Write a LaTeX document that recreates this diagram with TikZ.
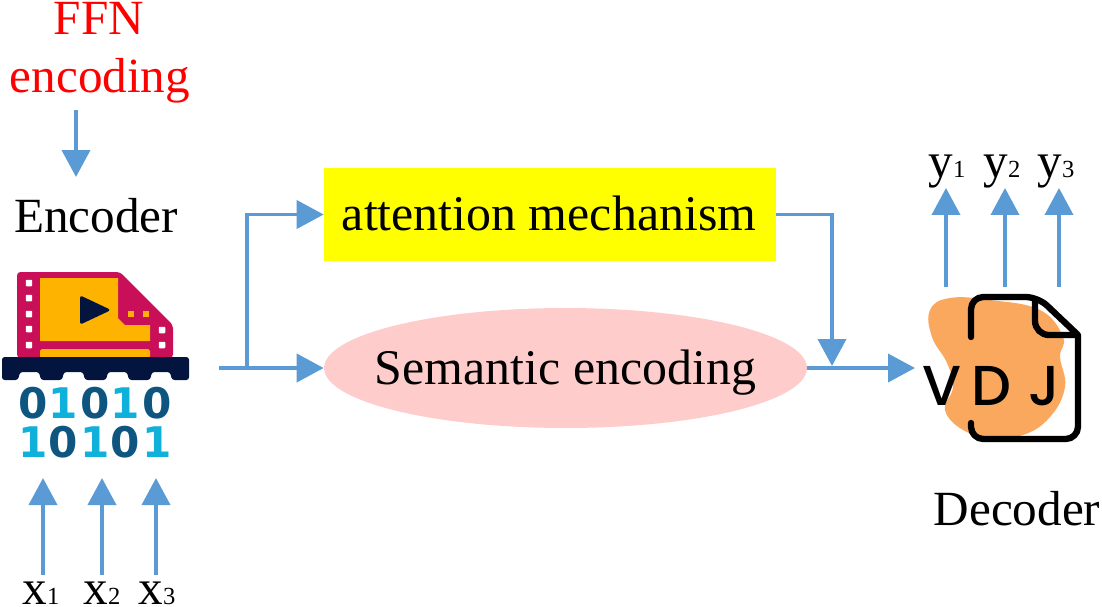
\documentclass[tikz,border=0pt]{standalone}
\usepackage{fontspec}
\setmainfont{Liberation Serif}
\newfontfamily\digitfont{DejaVu Sans}[BoldFont={DejaVu Sans Bold}]
\newfontfamily\vdjfont{Poppins Medium}
\usetikzlibrary{positioning,arrows.meta,shapes.geometric}
\definecolor{arrowblue}{HTML}{5B9BD5}
\definecolor{filmred}{HTML}{C90F57}
\definecolor{filmorange}{HTML}{FDB300}
\definecolor{filmnavy}{HTML}{03153F}
\definecolor{bitdark}{HTML}{0E5680}
\definecolor{bitlight}{HTML}{0FB1DA}
\definecolor{blobfill}{HTML}{FBA85F}
\definecolor{pinkfill}{HTML}{FFCCCC}
\definecolor{boxyellow}{HTML}{FFFF00}
\tikzset{
  lbl/.style={inner sep=0pt,anchor=base,font=\fontsize{28}{28}\selectfont},
  midlbl/.style={inner sep=0pt,anchor=base,font=\fontsize{28.4}{28}\selectfont},
  flow/.style={->,arrowblue,line width=2.2pt},
  hole/.style={fill=white,rounded corners=0.5pt,minimum size=0.13cm,inner sep=0pt},
  bit/.style={inner sep=0pt,font=\digitfont\bfseries\fontsize{24}{24}\selectfont},
  vdj/.style={inner sep=0pt,anchor=base,font=\vdjfont\fontsize{32}{32}\selectfont},
}
\newcommand{\sub}[1]{{\fontsize{14}{14}\selectfont #1}}
\begin{document}
\begin{tikzpicture}[x=0.02cm,y=-0.02cm,>={Triangle[length=5.4mm,width=5.6mm]}]
\useasboundingbox (0,0) rectangle (1102,606);
% labels
\node[lbl,red] (ffn) at (99,34) {FFN};
\node[lbl,red] (ffntxt) at (100,92) {encoding};
\node[lbl] (enc) at (96,232) {Encoder};
\node[lbl] (dectxt) at (1017,525) {Decoder};
\node[lbl] (x1) at (41,604) {x\sub{1}};
\node[lbl] (x2) at (102,604) {x\sub{2}};
\node[lbl] (x3) at (157,604) {x\sub{3}};
\node[lbl] (y1) at (947,177) {y\sub{1}};
\node[lbl] (y2) at (1002,177) {y\sub{2}};
\node[lbl] (y3) at (1056,177) {y\sub{3}};
% middle blocks
\node[fill=boxyellow,minimum width=9.04cm,minimum height=1.86cm,inner sep=0pt] (att) at (550,214.5) {};
\node[midlbl] (atttxt) at (549,230) {attention mechanism};
\node[ellipse,fill=pinkfill,minimum width=9.66cm,minimum height=2.4cm,inner sep=0pt] (sem) at (565.5,368) {};
\node[midlbl] (semtxt) at (565.5,384) {Semantic encoding};
% encoder icon
\fill[filmred,rounded corners=2pt] (17,272) -- (120,272) -- (173,325) -- (173,358) -- (17,358) -- cycle;
\fill[filmorange] (40,278) -- (118,278) -- (118,318) -- (125,325) -- (150,325) -- (150,341) -- (40,341) -- cycle;
\fill[filmorange,rounded corners=1pt] (40,358) -- (40,349) -- (150,349) -- (150,358) -- cycle;
\filldraw[filmnavy,line width=1.5pt,line join=round] (81.5,297.5) -- (108,310) -- (81.5,322.5) -- cycle;
\foreach \yy in {283,298,314,329,345} \node[hole] (ha\yy) at (29,\yy) {};
\foreach \yy in {330,345} \node[hole] (hb\yy) at (162,\yy) {};
\node[fill=filmorange,minimum size=0.12cm,inner sep=0pt] (dota) at (131,314) {};
\node[fill=filmorange,minimum size=0.12cm,inner sep=0pt] (dotb) at (146,314) {};
\fill[filmnavy,rounded corners=1.5pt] (2,357) -- (189,357) -- (189,380) -- (172,380) -- (170,372) -- (152,372) -- (150,380) -- (129,380) -- (127,372) -- (108,372) -- (106,380) -- (85,380) -- (83,372) -- (64,372) -- (62,380) -- (41,380) -- (39,372) -- (20,372) -- (18,380) -- (2,380) -- cycle;
\foreach \xx/\cc/\vv [count=\i] in {33/bitdark/0,63/bitlight/1,95/bitdark/0,125/bitlight/1,157/bitdark/0} \node[bit,text=\cc] (ba\i) at (\xx,403) {\vv};
\foreach \xx/\cc/\vv [count=\i] in {33/bitlight/1,63/bitdark/0,95/bitlight/1,125/bitdark/0,157/bitlight/1} \node[bit,text=\cc] (bb\i) at (\xx,442) {\vv};
% decoder icon
\fill[blobfill] plot[smooth cycle,tension=0.7] coordinates {(930,310) (950,298) (990,300) (1040,310) (1063,337) (1060,357) (1065,387) (1050,417) (1023,435) (990,437) (963,430) (945,410) (953,387) (947,363) (932,337)};
\draw[black,line width=3.6pt,line cap=round,line join=round,rounded corners=7pt] (971,337) -- (971,297) -- (1038,297) [sharp corners] -- (1078,335) [rounded corners=7pt] -- (1078,439) -- (971,439) -- (971,423);
\draw[black,line width=3.6pt,line cap=round,rounded corners=8pt] (1035,300) -- (1035,335) -- (1076,335);
\node[vdj] (letv) at (942,405) {V};
\node[vdj] (letd) at (991,405) {D};
\node[vdj] (letj) at (1044,405) {J};
% connectors
\coordinate (xa) at (43,478);
\coordinate (xb) at (102,478);
\coordinate (xc) at (156,478);
\coordinate (ya) at (946,287);
\coordinate (yb) at (1005,287);
\coordinate (yc) at (1059,287);
\coordinate (ffnend) at (76,177);
\coordinate (encout) at (219,368);
\coordinate (split) at (247,368);
\coordinate (merge) at (832,366);
\coordinate (decin) at (915,368);
\draw[flow] (x1.north -| xa) ++(0,-6) -- (xa);
\draw[flow] (x2.north -| xb) ++(0,-6) -- (xb);
\draw[flow] (x3.north -| xc) ++(0,-6) -- (xc);
\draw[flow] (ya) -- (ya |- y1.south);
\draw[flow] (yb) -- (yb |- y2.south);
\draw[flow] (yc) -- (yc |- y3.south);
\draw[flow] (ffntxt.south -| ffnend) ++(0,7) -- (ffnend);
\draw[flow] (encout) -- (sem.west);
\draw[flow] (split) |- (att.west);
\draw[flow] (att.east) -| (merge);
\draw[flow] (sem.east) -- (decin);
\end{tikzpicture}
\end{document}
